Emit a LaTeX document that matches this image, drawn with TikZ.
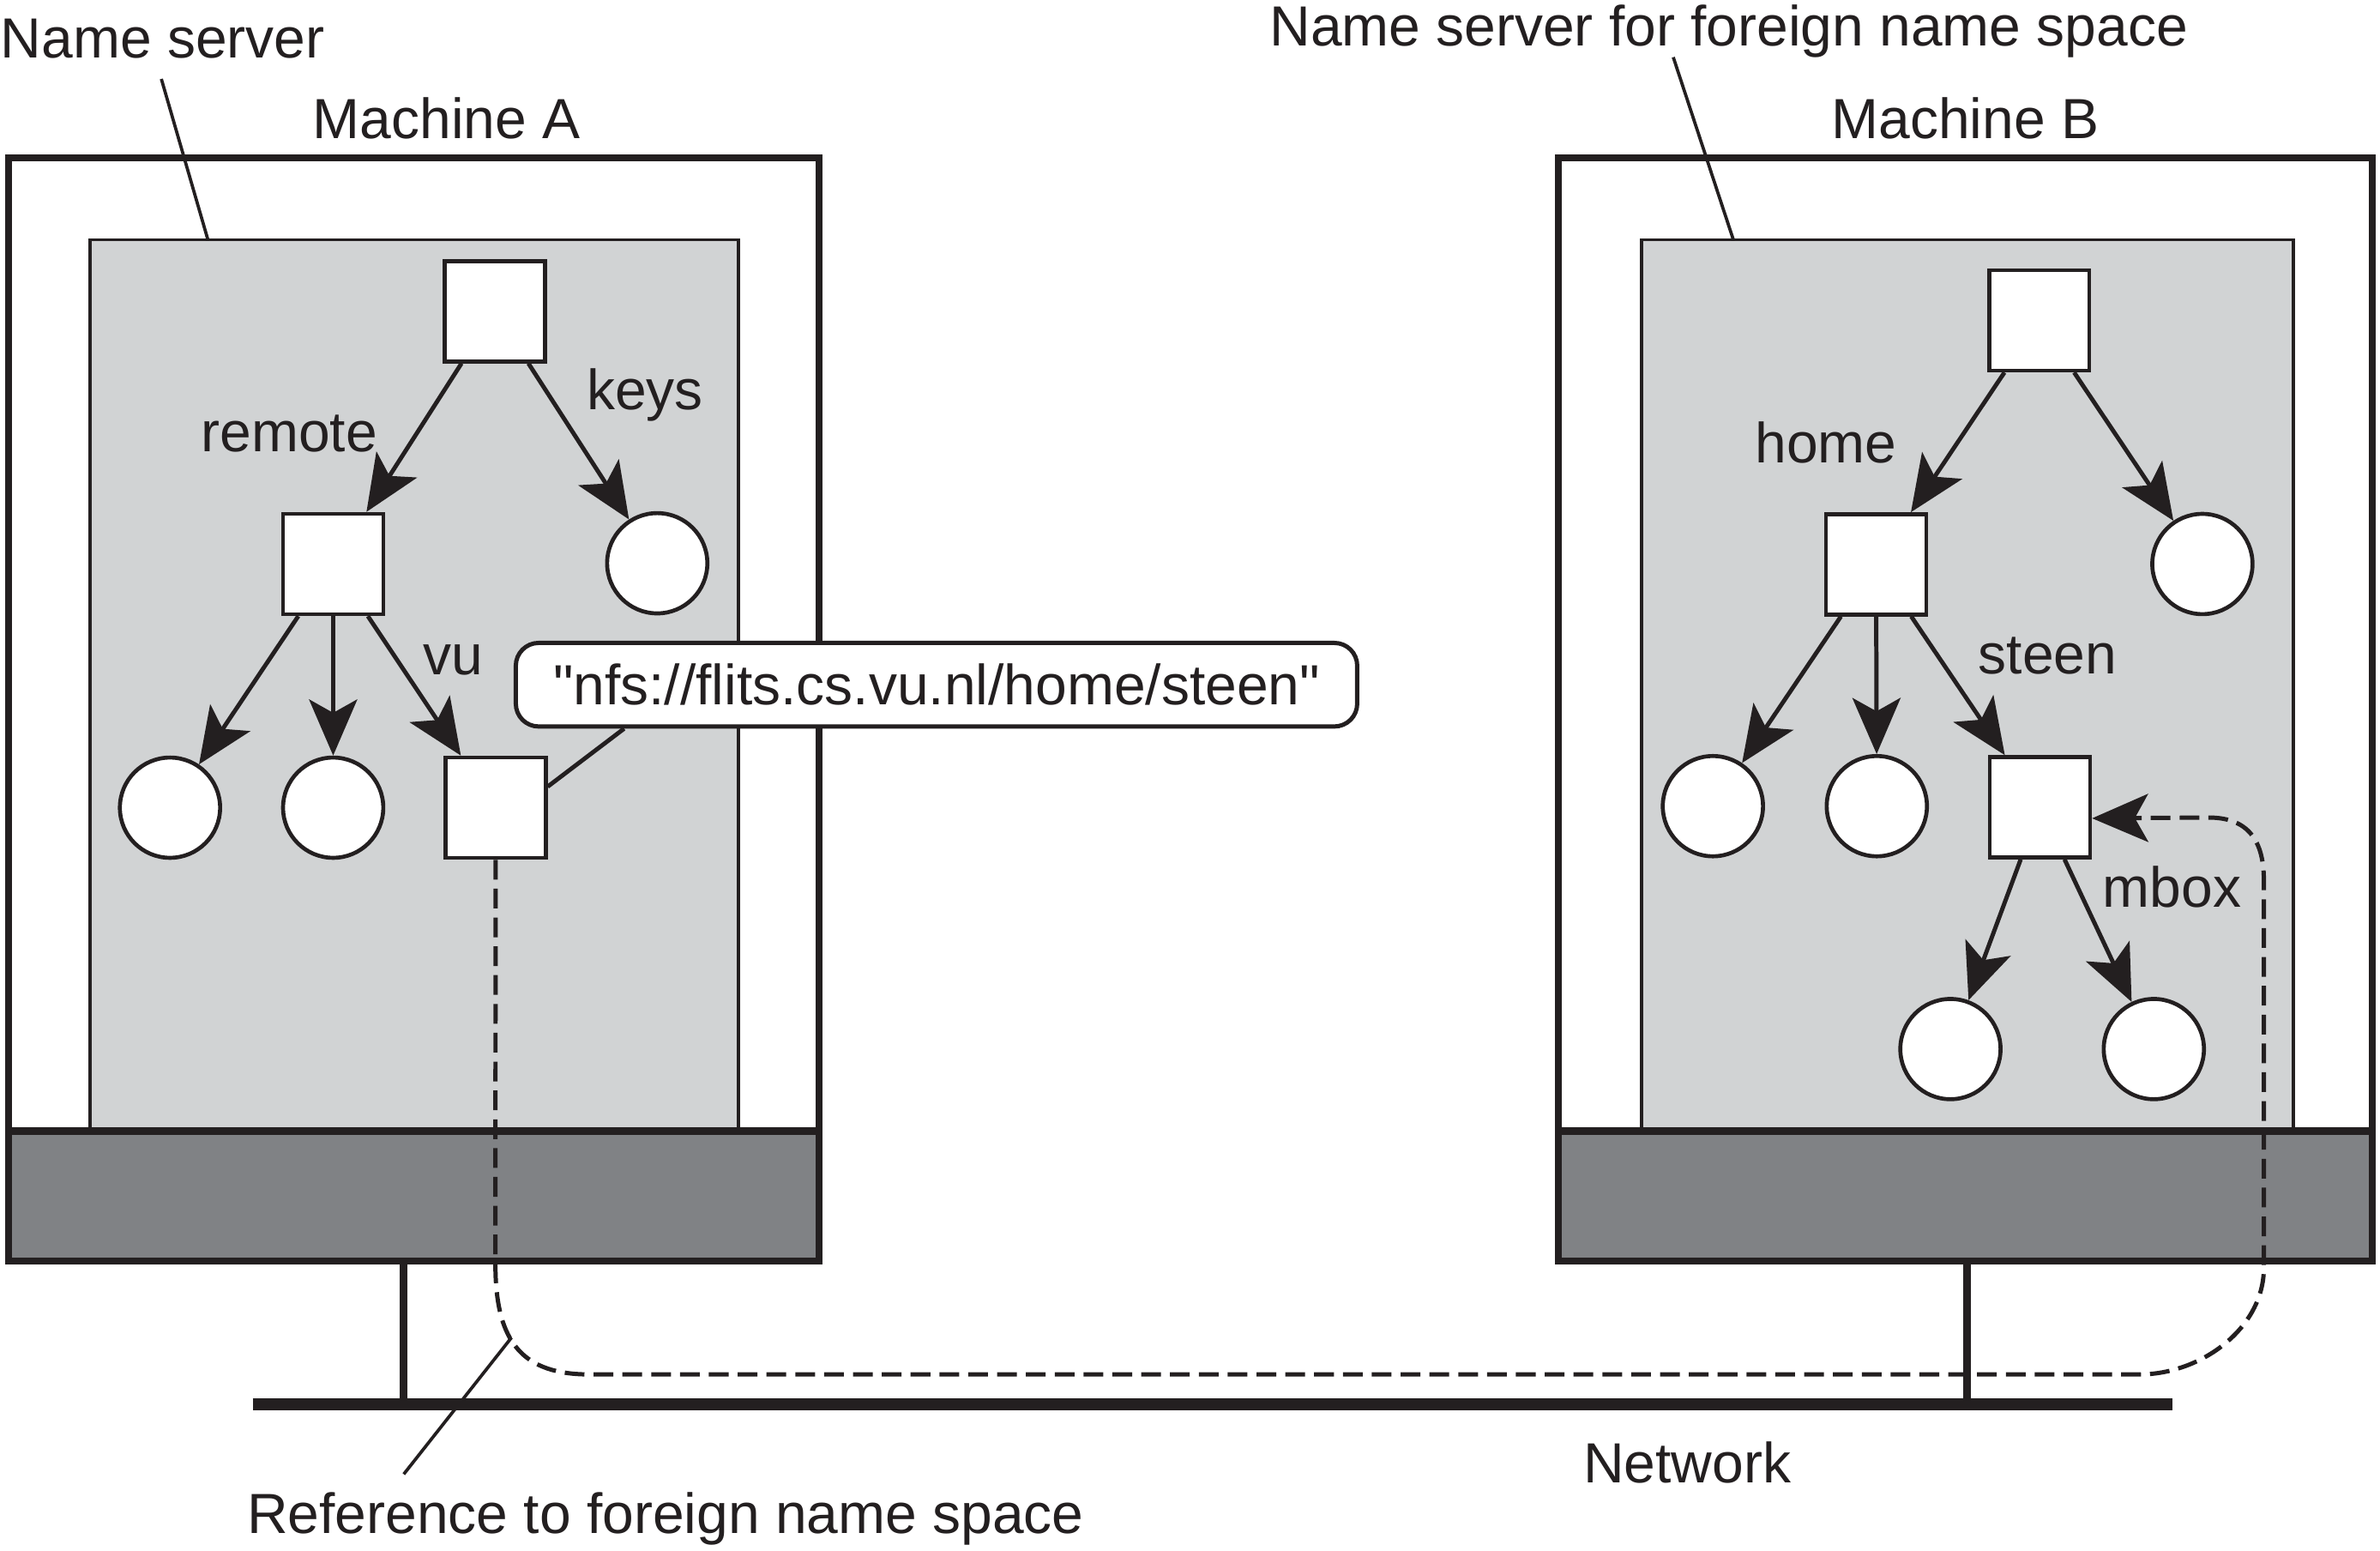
\documentclass[tikz,border=0pt]{standalone}
\usepackage{fontspec}
\setmainfont{Liberation Sans}
\usetikzlibrary{arrows.meta}
\definecolor{ink}{HTML}{231F20}
\definecolor{serverfill}{HTML}{D1D3D4}
\definecolor{hostfill}{HTML}{808285}
\begin{document}
\begin{tikzpicture}[x=0.01cm, y=-0.01cm,
        every node/.style={font=\fontsize{10.6pt}{12.7pt}\selectfont, text=ink},
        dirnode/.style={draw=ink, fill=white, line width=0.75pt, minimum size=0.66cm, inner sep=0pt},
        leafnode/.style={dirnode, circle},
        treeedge/.style={draw=ink, line width=0.8pt, -{Stealth[length=10.5pt,width=9pt,inset=2.5pt]}},
        reflink/.style={draw=ink, line width=0.8pt, dash pattern=on 3.7pt off 1.7pt,
            -{Stealth[length=10.5pt,width=9pt,inset=2.5pt]}},
        leader/.style={draw=ink, line width=0.6pt},
        lbl/.style={anchor=base, inner sep=0pt}]
    \useasboundingbox (0,0) rectangle (1568,1021.6);
    % machine A
    \fill[hostfill] (5.4,745) rectangle (539.5,830.5);
    \filldraw[fill=serverfill, draw=ink, line width=0.6pt] (59.5,158) rectangle (486.5,745);
    \draw[ink, line width=1.3pt] (5.4,104) rectangle (539.5,830.5) (5.4,745)--(539.5,745);
    % machine B
    \fill[hostfill] (1026.6,745) rectangle (1563,830.5);
    \filldraw[fill=serverfill, draw=ink, line width=0.6pt] (1081.6,158) rectangle (1511,745);
    \draw[ink, line width=1.3pt] (1026.6,104) rectangle (1563,830.5) (1026.6,745)--(1563,745);
    % network
    \draw[ink, line width=1.4pt] (265.9,830.5)--(265.9,925) (1296,830.5)--(1296,925);
    \draw[ink, line width=2.2pt] (166.5,925)--(1431,925);

    \node[lbl] (machA) at (294.2,91.3) {Machine A};
    \node[lbl] (machB) at (1294.7,91.3) {Machine B};
    \node[lbl] (nsA) at (107.2,38) {Name server};
    \node[lbl] (nsB) at (1139,30.5) {Name server for foreign name space};
    \node[lbl] (net) at (1111.6,976.7) {Network};
    \node[lbl] (refA) at (438.5,1010) {Reference to foreign name space};

    \node[dirnode] (rootA) at (326,205) {};
    \node[dirnode] (remoteA) at (219.5,371.5) {};
    \node[leafnode] (keysA) at (433,371) {};
    \node[leafnode] (leafA1) at (112,532) {};
    \node[leafnode] (leafA2) at (219.5,532) {};
    \node[dirnode] (vuA) at (326.5,532) {};

    \node[dirnode] (rootB) at (1343.5,211) {};
    \node[dirnode] (homeB) at (1236,371.7) {};
    \node[leafnode] (leafB0) at (1451,371.5) {};
    \node[leafnode] (leafB1) at (1128.5,531) {};
    \node[leafnode] (leafB2) at (1236.5,531) {};
    \node[dirnode] (steenB) at (1344,531.7) {};
    \node[leafnode] (mboxB1) at (1285,691) {};
    \node[leafnode] (mboxB2) at (1419,691) {};

    \foreach \a/\b in {rootA/remoteA, rootA/keysA, remoteA/leafA1, remoteA/leafA2, remoteA/vuA,
            rootB/homeB, rootB/leafB0, homeB/leafB1, homeB/leafB2, homeB/steenB,
            steenB/mboxB1, steenB/mboxB2}
        \draw[treeedge] (\a) -- (\b);

    \node[lbl] at (190.5,297.6) {remote};
    \node[lbl] at (425,270) {keys};
    \node[lbl] at (298.5,444.5) {vu};
    \node[lbl] at (1203,305) {home};
    \node[lbl] at (1349,444) {steen};
    \node[lbl] at (1431,597.5) {mbox};

    \node[draw=ink, fill=white, line width=0.8pt, rounded corners=0.15cm, minimum width=5.54cm,
        minimum height=0.55cm, inner sep=0pt] (url) at (617,451)
        {\textquotedbl nfs://flits.cs.vu.nl/home/steen\textquotedbl};
    \draw[leader, line width=0.8pt] (vuA.22) -- (url.188.4);

    \coordinate (nsAfoot) at (106.3,52);
    \coordinate (nsAtip) at (137,158);
    \coordinate (nsBfoot) at (1102.4,37.7);
    \coordinate (nsBtip) at (1142,158);
    \coordinate (refAfoot) at (266,971);
    \coordinate (refAtip) at (337,881);
    \draw[leader] (nsAfoot) -- (nsAtip);
    \draw[leader] (nsBfoot) -- (nsBtip);
    \draw[leader] (refAfoot) -- (refAtip);

    \draw[reflink] (vuA.south) -- (326.4,833)
        .. controls (326.4,885) and (345,905.3) .. (388.5,905.3) -- (1409.5,905.3)
        .. controls (1450,905.3) and (1491.5,875) .. (1491.5,835) -- (1491.5,580)
        .. controls (1491.5,550) and (1478,538.5) .. (1455,538.5) -- (steenB.-12);
\end{tikzpicture}
\end{document}
